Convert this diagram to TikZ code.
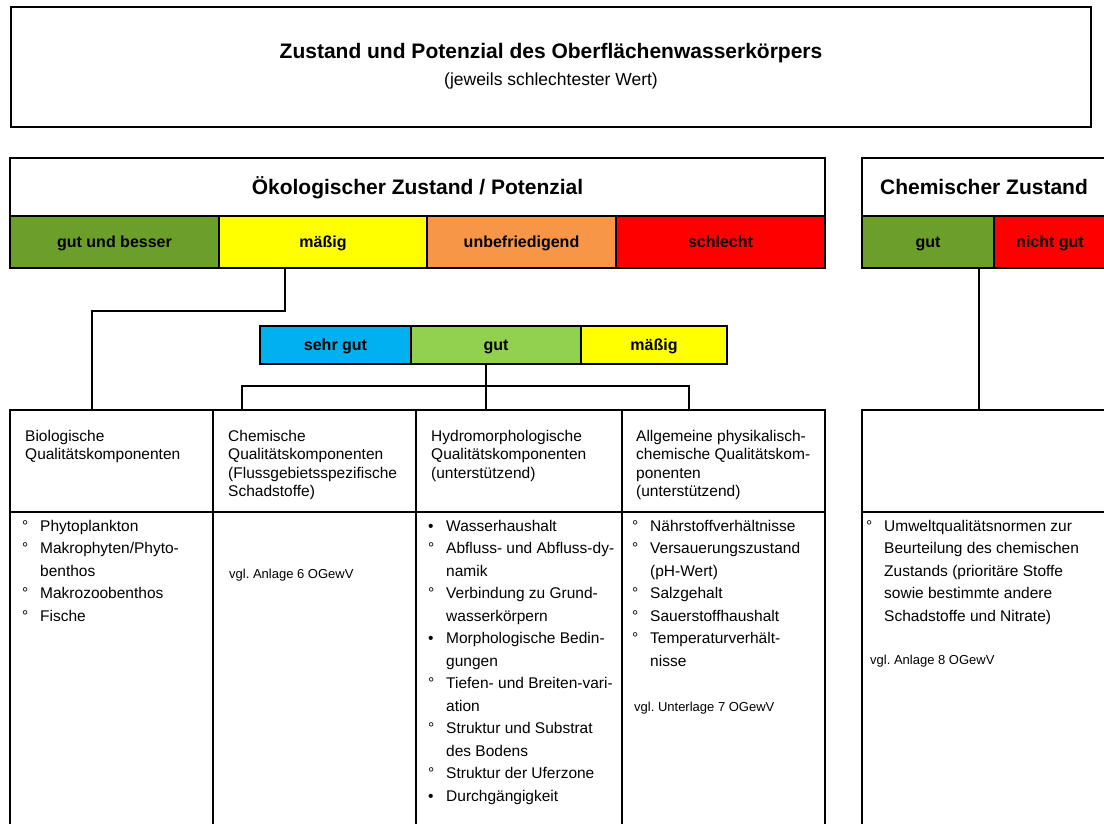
\documentclass[tikz,border=0pt]{standalone}
\usepackage{fontspec}
\setmainfont{Liberation Sans}
\usetikzlibrary{positioning,calc}

\definecolor{gruenok}{RGB}{107,159,42}
\definecolor{gelb}{RGB}{255,255,0}
\definecolor{orangeu}{RGB}{247,150,70}
\definecolor{rot}{RGB}{255,0,0}
\definecolor{blausg}{RGB}{0,176,240}
\definecolor{gruenhell}{RGB}{146,208,80}

\newcommand{\kreis}{\makebox[18pt][l]{°}}
\newcommand{\punkt}{\makebox[18pt][l]{•}}
\newcommand{\weiter}{\hspace*{18pt}}

\begin{document}
\frenchspacing
\begin{tikzpicture}[
  x=1pt, y=-1pt,
  box/.style={rectangle, draw=black, line width=2pt, inner sep=0pt},
  kopf/.style={box, minimum height=58pt, text height=16pt, text depth=1pt,
    font=\fontsize{21}{25}\selectfont\bfseries},
  klasse/.style={box, minimum height=52pt, text height=12pt, text depth=1pt,
    font=\fontsize{16}{19}\selectfont\bfseries},
  zelle/.style={box, line width=1.8pt},
  kopftext/.style={anchor=base west, align=left, inner sep=0pt, font=\fontsize{15.5}{18.5}\selectfont},
  listtext/.style={anchor=base west, align=left, inner sep=0pt, font=\fontsize{15.5}{22.5}\selectfont},
  hinweis/.style={anchor=base west, inner sep=0pt, font=\fontsize{13}{16}\selectfont},
  verb/.style={line width=1.6pt, black}
]
\useasboundingbox (0,0) rectangle (1104,824);
\clip (0,0) rectangle (1104,824);

% === Gesamtbewertung ===
\node[box, minimum width=1080pt, minimum height=120pt] (gesamt) at (551,67) {};
\node[anchor=base, font=\fontsize{21}{25}\selectfont\bfseries] (titel) at (551,59)
  {Zustand und Potenzial des Oberflächenwasserkörpers};
\node[anchor=base, font=\fontsize{17.5}{21}\selectfont] (untertitel) at (551,86)
  {(jeweils schlechtester Wert)};

% === Oekologischer Zustand ===
\node[kopf, minimum width=815pt] (oekokopf) at (417.5,187) {Ökologischer Zustand / Potenzial};
\node[klasse, minimum width=209pt, fill=gruenok] (gub) at (114.5,242) {gut und besser};
\node[klasse, minimum width=208pt, fill=gelb] (maessig) at (323,242) {mäßig};
\node[klasse, minimum width=189pt, fill=orangeu] (unbef) at (521.5,242) {unbefriedigend};
\node[klasse, minimum width=209pt, fill=rot] (schlecht) at (720.5,242) {schlecht};

% === Chemischer Zustand ===
\node[kopf, minimum width=244pt] (chemkopf) at (984,187) {Chemischer Zustand};
\node[klasse, minimum width=132pt, fill=gruenok] (chgut) at (928,242) {gut};
\node[klasse, minimum width=112pt, fill=rot] (chnichtgut) at (1050,242) {nicht gut};

% === Skala der Komponenten ===
\node[klasse, minimum height=38pt, minimum width=151pt, fill=blausg] (sehrgut) at (335.5,345) {sehr gut};
\node[klasse, minimum height=38pt, minimum width=170pt, fill=gruenhell] (gut) at (496,345) {gut};
\node[klasse, minimum height=38pt, minimum width=146pt, fill=gelb] (maessigb) at (654,345) {mäßig};

% === Tabelle der Qualitaetskomponenten ===
\node[zelle, minimum width=203pt, minimum height=102pt] (bio) at (111.5,461) {};
\node[zelle, minimum width=203pt, minimum height=102pt] (chemq) at (314.5,461) {};
\node[zelle, minimum width=206pt, minimum height=102pt] (hydro) at (519,461) {};
\node[zelle, minimum width=203pt, minimum height=102pt] (phys) at (723.5,461) {};
\node[zelle, minimum width=203pt, minimum height=328pt] (bioliste) at (111.5,676) {};
\node[zelle, minimum width=203pt, minimum height=328pt] (chemqliste) at (314.5,676) {};
\node[zelle, minimum width=206pt, minimum height=328pt] (hydroliste) at (519,676) {};
\node[zelle, minimum width=203pt, minimum height=328pt] (physliste) at (723.5,676) {};

\node[zelle, minimum width=244pt, minimum height=102pt] (chemrechts) at (984,461) {};
\node[zelle, minimum width=244pt, minimum height=328pt] (chemliste) at (984,676) {};

% === Verbindungen ===
\draw[verb] ([xshift=-38pt]maessig.south) -- ++(0,42) -| ([xshift=-19.5pt]bio.north);
\draw[verb] ([xshift=-10pt]gut.south) -- ([xshift=-10pt]gut.south |- hydro.north);
\draw[verb] ([xshift=-72.5pt]chemq.north) -- ++(0,-23) -| ([xshift=-34.5pt]phys.north);
\draw[verb] ([xshift=51pt]chgut.south) -- ([xshift=51pt]chgut.south |- chemrechts.north);

% === Kopfzeilen (Anker an der letzten Zeile) ===
\node[kopftext] (biokopf) at (25,459.5) {Biologische\\Qualitätskomponenten};
\node[kopftext] (chemqkopf) at (228,496.5)
  {Chemische\\Qualitätskomponenten\\(Flussgebietsspezifische\\Schadstoffe)};
\node[kopftext] (hydrokopf) at (431,478)
  {Hydromorphologische\\Qualitätskomponenten\\(unterstützend)};
\node[kopftext] (physkopf) at (636,496.5)
  {Allgemeine physikalisch-\\chemische Qualitätskom-\\ponenten\\(unterstützend)};

% === Listen ===
\node[listtext] (bioeintraege) at (22,621)
  {\kreis Phytoplankton\\\kreis Makrophyten/Phyto-\\\weiter benthos\\\kreis Makrozoobenthos\\\kreis Fische};
\node[listtext] (hydroeintraege) at (428,801)
  {\punkt Wasserhaushalt\\\kreis Abfluss- und Abfluss-dy-\\\weiter namik\\%
   \kreis Verbindung zu Grund-\\\weiter wasserkörpern\\\punkt Morphologische Bedin-\\%
   \weiter gungen\\\kreis Tiefen- und Breiten-vari-\\\weiter ation\\%
   \kreis Struktur und Substrat\\\weiter des Bodens\\\kreis Struktur der Uferzone\\%
   \punkt Durchgängigkeit};
\node[listtext] (physeintraege) at (632,666)
  {\kreis Nährstoffverhältnisse\\\kreis Versauerungszustand\\\weiter (pH-Wert)\\%
   \kreis Salzgehalt\\\kreis Sauerstoffhaushalt\\\kreis Temperaturverhält-\\\weiter nisse};
\node[listtext] (chemeintraege) at (866,621)
  {\kreis Umweltqualitätsnormen zur\\\weiter Beurteilung des chemischen\\%
   \weiter Zustands (prioritäre Stoffe\\\weiter sowie bestimmte andere\\%
   \weiter Schadstoffe und Nitrate)};

% === Verweise ===
\node[hinweis] (anlage6) at (229,578) {vgl. Anlage 6 OGewV};
\node[hinweis] (unterlage7) at (634,711) {vgl. Unterlage 7 OGewV};
\node[hinweis] (anlage8) at (870,664) {vgl. Anlage 8 OGewV};

\end{tikzpicture}
\end{document}
